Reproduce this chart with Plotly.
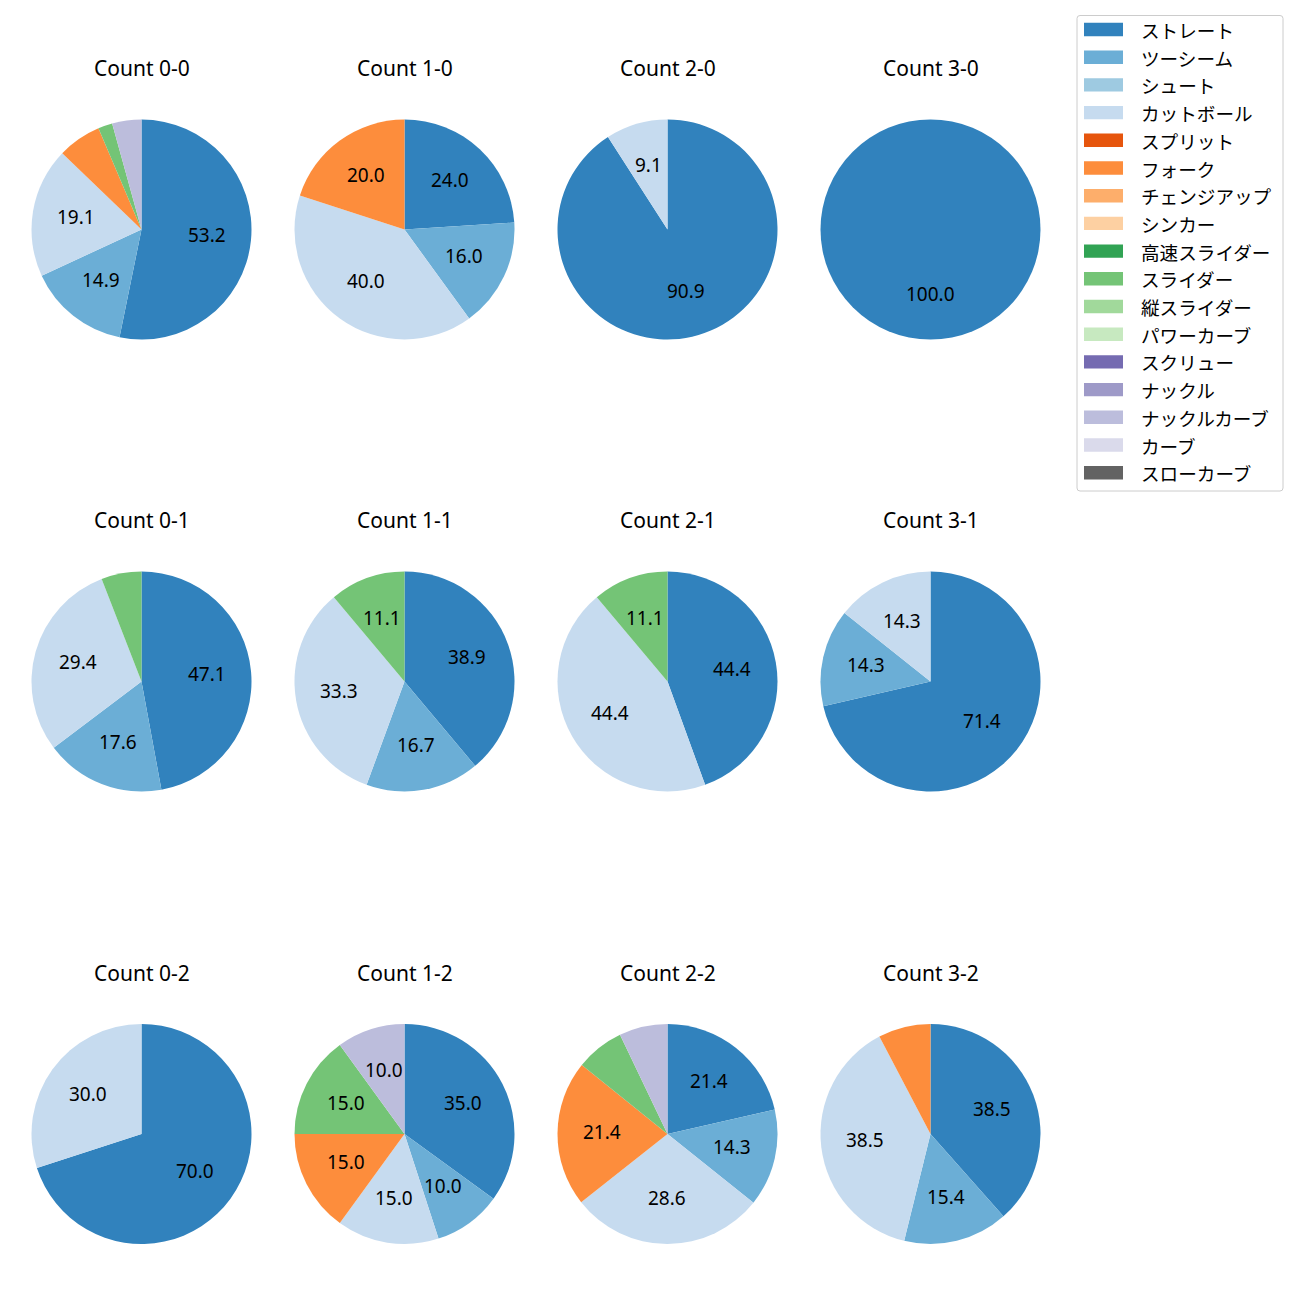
import math
import plotly.graph_objects as go

# ---------------- data ----------------
pitch_types = ["ストレート", "ツーシーム", "シュート", "カットボール", "スプリット", "フォーク",
               "チェンジアップ", "シンカー", "高速スライダー", "スライダー", "縦スライダー",
               "パワーカーブ", "スクリュー", "ナックル", "ナックルカーブ", "カーブ", "スローカーブ"]
pitch_colors = ["#3182bd", "#6baed6", "#9ecae1", "#c6dbef", "#e6550d", "#fd8d3c",
                "#fdae6b", "#fdd0a2", "#31a354", "#74c476", "#a1d99b", "#c7e9c0",
                "#756bb1", "#9e9ac8", "#bcbddc", "#dadaeb", "#636363"]

count_titles = ["Count 0-0", "Count 1-0", "Count 2-0", "Count 3-0",
                "Count 0-1", "Count 1-1", "Count 2-1", "Count 3-1",
                "Count 0-2", "Count 1-2", "Count 2-2", "Count 3-2"]

#            St    2S   Sh  Cut  Spl  Fk  Ch  Sk  HSl  Sl  VSl  PC  Scr  Kn  KC  Cv  SC
count_0_0 = [53.2, 14.9, 0, 19.1, 0, 6.4, 0, 0, 0, 2.1, 0, 0, 0, 0, 4.3, 0, 0]
count_1_0 = [24.0, 16.0, 0, 40.0, 0, 20.0, 0, 0, 0, 0, 0, 0, 0, 0, 0, 0, 0]
count_2_0 = [90.9, 0, 0, 9.1, 0, 0, 0, 0, 0, 0, 0, 0, 0, 0, 0, 0, 0]
count_3_0 = [100.0, 0, 0, 0, 0, 0, 0, 0, 0, 0, 0, 0, 0, 0, 0, 0, 0]
count_0_1 = [47.1, 17.6, 0, 29.4, 0, 0, 0, 0, 0, 5.9, 0, 0, 0, 0, 0, 0, 0]
count_1_1 = [38.9, 16.7, 0, 33.3, 0, 0, 0, 0, 0, 11.1, 0, 0, 0, 0, 0, 0, 0]
count_2_1 = [44.4, 0, 0, 44.4, 0, 0, 0, 0, 0, 11.1, 0, 0, 0, 0, 0, 0, 0]
count_3_1 = [71.4, 14.3, 0, 14.3, 0, 0, 0, 0, 0, 0, 0, 0, 0, 0, 0, 0, 0]
count_0_2 = [70.0, 0, 0, 30.0, 0, 0, 0, 0, 0, 0, 0, 0, 0, 0, 0, 0, 0]
count_1_2 = [35.0, 10.0, 0, 15.0, 0, 15.0, 0, 0, 0, 15.0, 0, 0, 0, 0, 10.0, 0, 0]
count_2_2 = [21.4, 14.3, 0, 28.6, 0, 21.4, 0, 0, 0, 7.1, 0, 0, 0, 0, 7.1, 0, 0]
count_3_2 = [38.5, 15.4, 0, 38.5, 0, 7.7, 0, 0, 0, 0, 0, 0, 0, 0, 0, 0, 0]

count_values = [count_0_0, count_1_0, count_2_0, count_3_0,
                count_0_1, count_1_1, count_2_1, count_3_1,
                count_0_2, count_1_2, count_2_2, count_3_2]

# ---------------- layout constants (screen pixels) ----------------
W = H = 1300
PAGE_OFFSET = 8  # default body margin of the html page
col_cx = [141.5, 404.5, 667.5, 930.5]
row_cy = [229.5, 681.5, 1134.0]
R = 110.0
title_dy = 161.0
LABEL_MIN_PCT = 8.0
LATIN_FONT = "Noto Sans, Noto Sans CJK JP, sans-serif"
CJK_FONT = "Noto Sans CJK JP, Noto Sans, sans-serif"


def px(x):
    return (x - PAGE_OFFSET) / W


def py(y):
    return 1 - (y - PAGE_OFFSET) / H


fig = go.Figure()
annotations = []
shapes = []

for i, (title, vals) in enumerate(zip(count_titles, count_values)):
    r_i, c_i = divmod(i, 4)
    cx, cy = col_cx[c_i], row_cy[r_i]
    labs = [p for p, v in zip(pitch_types, vals) if v > 0]
    cols = [c for c, v in zip(pitch_colors, vals) if v > 0]
    vs = [v for v in vals if v > 0]
    fig.add_trace(go.Pie(
        labels=labs, values=vs, sort=False, direction="clockwise", rotation=0,
        marker=dict(colors=cols, line=dict(width=0)),
        textinfo="none", showlegend=False, name=title,
        domain=dict(x=[px(cx - R), px(cx + R)], y=[py(cy + R), py(cy - R)]),
    ))
    # title
    annotations.append(dict(x=px(cx), y=py(cy - title_dy), xref="paper", yref="paper",
                            text=title, showarrow=False, xanchor="center", yanchor="middle",
                            font=dict(size=21, color="black", family=LATIN_FONT)))
    # percentage labels at 0.6 radius
    total = sum(vs)
    cum = 0.0
    for v in vs:
        frac_mid = (cum + v / 2) / total
        cum += v
        pct = v / total * 100
        if pct < LABEL_MIN_PCT:
            continue
        theta = math.radians(90 - 360 * frac_mid)
        lx = cx + 0.6 * R * math.cos(theta)
        ly = cy - 0.6 * R * math.sin(theta) - 1.5
        annotations.append(dict(x=px(lx), y=py(ly), xref="paper", yref="paper",
                                text=f"{pct:.1f}", showarrow=False,
                                xanchor="center", yanchor="middle",
                                font=dict(size=19, color="black", family=LATIN_FONT)))

# ---------------- legend (matplotlib style) ----------------
lx0, lx1, ly0, ly1 = 1077.0, 1283.0, 15.5, 491.0
rr = 3.0
path = (f"M {px(lx0 + rr)},{py(ly0)} L {px(lx1 - rr)},{py(ly0)} "
        f"Q {px(lx1)},{py(ly0)} {px(lx1)},{py(ly0 + rr)} "
        f"L {px(lx1)},{py(ly1 - rr)} Q {px(lx1)},{py(ly1)} {px(lx1 - rr)},{py(ly1)} "
        f"L {px(lx0 + rr)},{py(ly1)} Q {px(lx0)},{py(ly1)} {px(lx0)},{py(ly1 - rr)} "
        f"L {px(lx0)},{py(ly0 + rr)} Q {px(lx0)},{py(ly0)} {px(lx0 + rr)},{py(ly0)} Z")
shapes.append(dict(type="path", path=path, xref="paper", yref="paper",
                   line=dict(color="#cccccc", width=1), fillcolor="rgba(255,255,255,0.8)"))
item_y0 = 29.5
item_dy = 27.7
for k, (name, col) in enumerate(zip(pitch_types, pitch_colors)):
    yc = item_y0 + k * item_dy
    shapes.append(dict(type="rect", xref="paper", yref="paper",
                       x0=px(1084), x1=px(1123), y0=py(yc + 6.7), y1=py(yc - 6.7),
                       line=dict(width=0), fillcolor=col))
    annotations.append(dict(x=px(1138.5), y=py(yc), xref="paper", yref="paper",
                            text=name, showarrow=False, xanchor="left", yanchor="middle",
                            font=dict(size=18.6, color="black", family=CJK_FONT)))

fig.update_layout(
    width=W, height=H, margin=dict(l=0, r=0, t=0, b=0),
    paper_bgcolor="white", plot_bgcolor="white",
    annotations=annotations, shapes=shapes, showlegend=False,
    font=dict(family=LATIN_FONT),
)

fig.write_html("out.html")
